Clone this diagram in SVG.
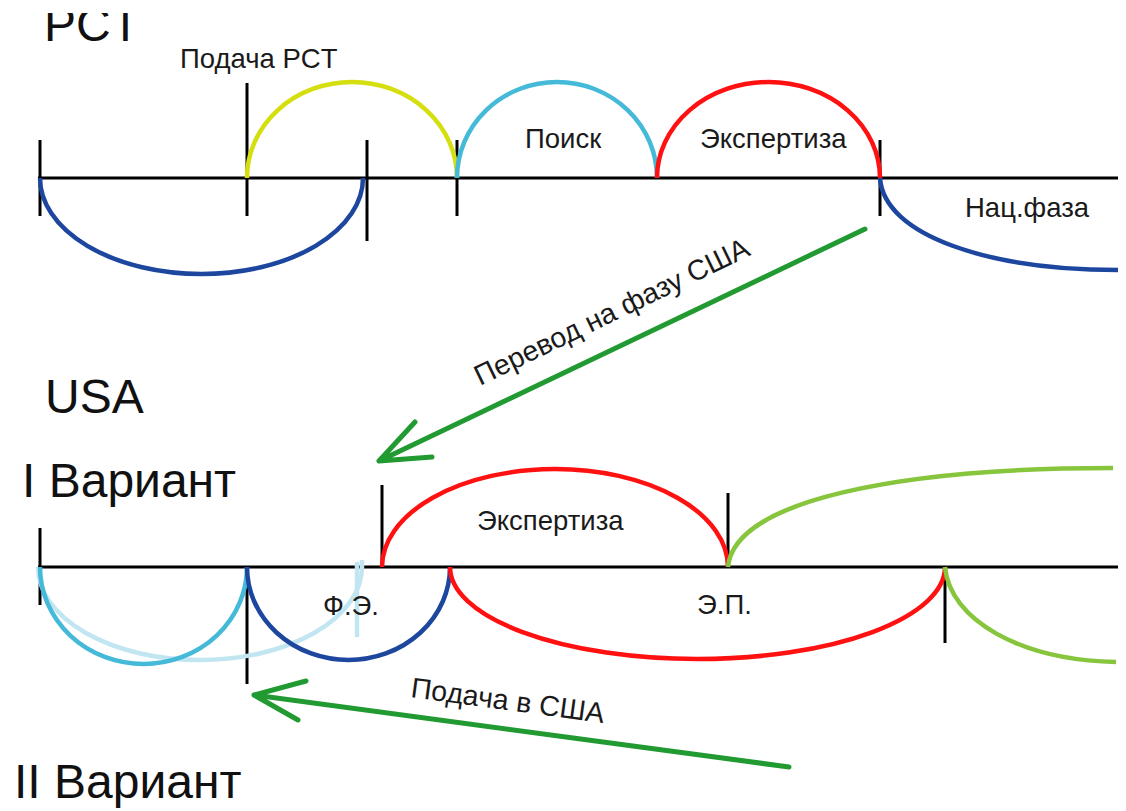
<svg xmlns="http://www.w3.org/2000/svg" width="1126" height="811" viewBox="0 0 1126 811">
  <defs>
    <clipPath id="topclip"><rect x="0" y="13" width="300" height="60"/></clipPath>
  </defs>
  <style>
    .axis{stroke:#000;stroke-width:3;fill:none}
    .tick{stroke:#000;stroke-width:3;fill:none}
    .arc{fill:none;stroke-width:4.5;stroke-linecap:butt}
    .blue{stroke:#1d479f}
    .yellow{stroke:#d5df10}
    .cyan{stroke:#45b9d8}
    .pale{stroke:#c2e6f1}
    .red{stroke:#ff1111}
    .lgreen{stroke:#86c53c}
    .arrow{fill:none;stroke:#229a32;stroke-width:5;stroke-linecap:round;stroke-linejoin:round}
    .big{font-family:"Liberation Sans",Arial,sans-serif;font-size:48px;fill:#111}
    .lbl{font-family:"Liberation Sans",Arial,sans-serif;font-size:27.5px;fill:#1a1a1a}
    .rot{font-size:28.5px}
  </style>

  <rect width="1126" height="811" fill="#fff"/>

  <!-- Titles -->
  <g id="title-pct"><text class="big" x="44" y="41" font-size="44" clip-path="url(#topclip)">PCT</text></g>
  <g id="title-usa"><text class="big" x="45" y="413">USA</text></g>
  <g id="title-v1"><text class="big" x="22" y="497">I Вариант</text></g>
  <g id="title-v2"><text class="big" x="14" y="798">II Вариант</text></g>

  <!-- PCT timeline -->
  <g id="pct-axis">
    <line class="axis" x1="38" y1="178" x2="1118" y2="178"/>
    <line class="tick" x1="40" y1="140" x2="40" y2="216"/>
    <line class="tick" x1="247" y1="83" x2="247" y2="216"/>
    <line class="tick" x1="367" y1="140" x2="367" y2="241"/>
    <line class="tick" x1="457" y1="140" x2="457" y2="216"/>
    <line class="tick" x1="880" y1="140" x2="880" y2="216"/>
  </g>
  <g id="pct-priority"><path class="arc blue" d="M40,178 A161.5,96 0 0 0 363,178"/></g>
  <g id="pct-filing">
    <path class="arc yellow" d="M247,178 A105,96 0 0 1 457,178"/>
    <text class="lbl" x="180" y="68">Подача PCT</text>
  </g>
  <g id="pct-search">
    <path class="arc cyan" d="M457,178 A100,96 0 0 1 657,178"/>
    <text class="lbl" x="525" y="148">Поиск</text>
  </g>
  <g id="pct-exam">
    <path class="arc red" d="M657,178 A111.5,96 0 0 1 880,178"/>
    <text class="lbl" x="700" y="148">Экспертиза</text>
  </g>
  <g id="pct-national">
    <path class="arc blue" d="M880,178 C884,236 990,270 1118,270"/>
    <text class="lbl" x="965" y="217">Нац.фаза</text>
  </g>

  <!-- USA timeline -->
  <g id="usa-axis">
    <line class="axis" x1="38" y1="567" x2="1118" y2="567"/>
    <line class="tick" x1="40" y1="528" x2="40" y2="605"/>
    <line class="tick" x1="247" y1="567" x2="247" y2="684"/>
    <line class="tick" x1="382" y1="485" x2="382" y2="567"/>
    <line class="tick" x1="728" y1="493" x2="728" y2="567"/>
    <line class="tick" x1="945" y1="567" x2="945" y2="643"/>
  </g>
  <g id="usa-pale">
    <path class="arc pale" d="M38,567 A162,93 0 0 0 362,567 L362,560"/>
    <line class="arc pale" x1="357" y1="562" x2="357" y2="637" stroke-width="3.5"/>
  </g>
  <g id="usa-priority"><path class="arc cyan" d="M40,567 A103.5,97 0 0 0 247,567"/></g>
  <g id="usa-formal">
    <path class="arc blue" d="M247,567 A101.5,93 0 0 0 450,567"/>
    <text class="lbl" x="323" y="615">Ф.Э.</text>
  </g>
  <g id="usa-exam">
    <path class="arc red" d="M382,567 A173,98 0 0 1 728,567"/>
    <text class="lbl" x="477" y="530">Экспертиза</text>
  </g>
  <g id="usa-ep">
    <path class="arc red" d="M450,567 A247.5,92 0 0 0 945,567"/>
    <text class="lbl" x="697" y="614">Э.П.</text>
  </g>
  <g id="usa-after1"><path class="arc lgreen" d="M728,567 C734,500 900,468 1113,468"/></g>
  <g id="usa-after2"><path class="arc lgreen" d="M945,567 C950,620 1020,660 1116,662"/></g>

  <!-- Connectors -->
  <g id="connectors">
    <g id="transfer">
      <path class="arrow" d="M865,229 L379,461 M415,422 L379,461 L432,457"/>
      <text class="lbl rot" transform="translate(480,386) rotate(-25.8)">Перевод на фазу США</text>
    </g>
    <g id="us-filing">
      <path class="arrow" d="M789,767 L254,695 M306,681 L254,695 L298,720"/>
      <text class="lbl rot" transform="translate(410,697) rotate(7.7)">Подача в США</text>
    </g>
  </g>
</svg>
